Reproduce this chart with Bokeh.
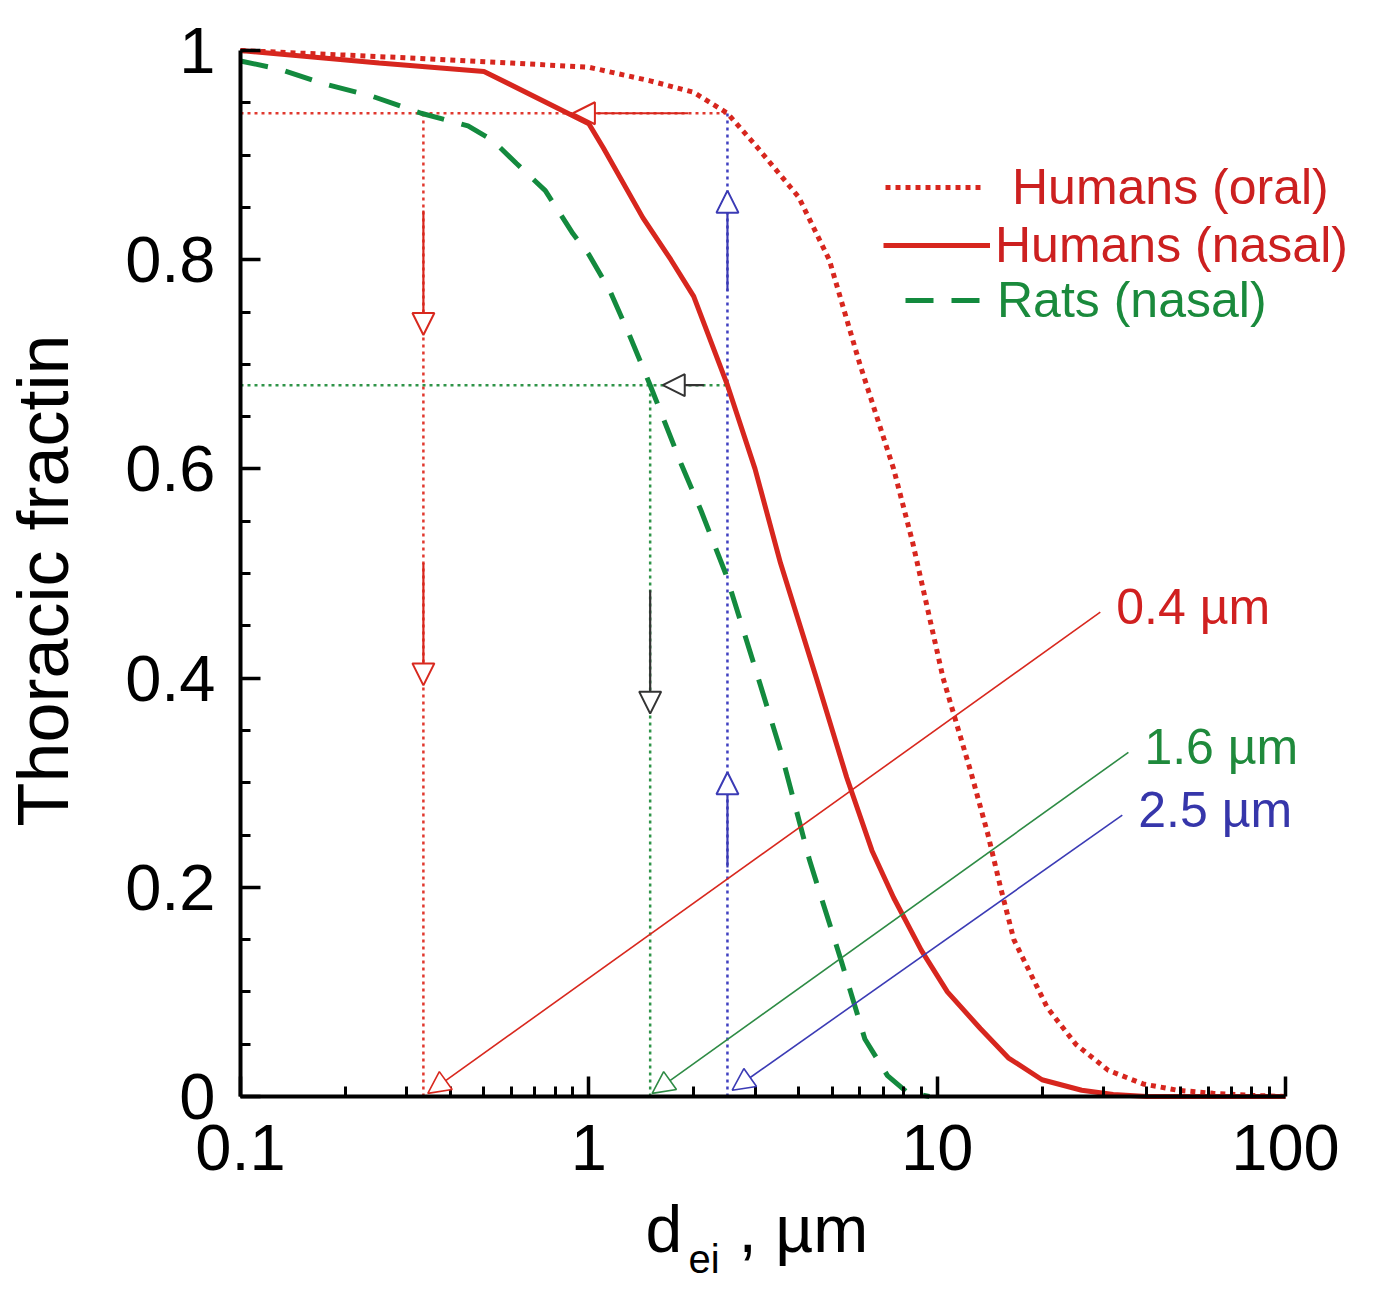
from math import pi
from bokeh.plotting import figure
from bokeh.models import (Range1d, FixedTicker, CustomJSTickFormatter, Label, Legend,
                          LegendItem, Arrow, NormalHead, ColumnDataSource, LinearAxis,
                          LogAxis, LogScale)
from bokeh.embed import file_html
from bokeh.resources import INLINE

# ---------------- data ----------------
oral_x = [0.1, 0.3, 0.6, 1.0, 1.5, 2.0, 2.5, 3.0, 4.0, 4.9, 6.0, 7.5, 8.5, 10.4, 12.5,
          14, 15.2, 16.6, 20.7, 25, 31, 39, 49, 62, 80, 100]
oral_y = [1.0, 0.993, 0.988, 0.984, 0.971, 0.96, 0.94, 0.91, 0.86, 0.80, 0.70, 0.60, 0.53,
          0.40, 0.31, 0.25, 0.20, 0.15, 0.085, 0.05, 0.025, 0.012, 0.006, 0.003, 0.001, 0.0]

nasal_x = [0.1, 0.25, 0.5, 1.0, 1.1, 1.43, 1.72, 2.0, 2.5, 3.0, 3.55, 4.5, 5.5, 6.5, 7.5,
           9.0, 10.7, 13.3, 16, 20, 26, 32, 40, 100]
nasal_y = [1.0, 0.988, 0.98, 0.93, 0.907, 0.84, 0.80, 0.765, 0.68, 0.60, 0.51, 0.40, 0.305,
           0.235, 0.19, 0.14, 0.10, 0.065, 0.037, 0.016, 0.006, 0.002, 0.0, 0.0]

rats_x = [0.1, 0.13, 0.17, 0.24, 0.33, 0.45, 0.53, 0.62, 0.75, 0.9, 1.0, 1.15, 1.3, 1.5,
          1.84, 2.1, 2.47, 3.0, 3.55, 4.3, 5.3, 6.2, 7.2, 8.2, 9.5]
rats_y = [0.99, 0.982, 0.969, 0.956, 0.94, 0.928, 0.914, 0.892, 0.866, 0.825, 0.805, 0.77,
          0.73, 0.68, 0.605, 0.56, 0.50, 0.41, 0.331, 0.226, 0.13, 0.055, 0.02, 0.004, 0.0]

series_labels = ["Humans (oral)", "Humans (nasal)", "Rats (nasal)"]

# cut sizes / fractions used by the guide lines
cut_red, cut_green, cut_blue = 0.335, 1.5, 2.5
frac_red, frac_green = 0.94, 0.68

# guide arrows (x0, y0) -> (x1, y1)
arr_x0 = [1.93, 0.335, 0.335, 2.14, 1.5, 2.5, 2.5]
arr_y0 = [0.94, 0.847, 0.51, 0.68, 0.484, 0.219, 0.77]
arr_x1 = [0.90, 0.335, 0.335, 1.63, 1.5, 2.5, 2.5]
arr_y1 = [0.94, 0.728, 0.393, 0.68, 0.366, 0.31, 0.866]
arr_col = ["#d8281e", "#d8281e", "#d8281e", "#333333", "#333333", "#3b3bb5", "#3b3bb5"]

# diagonal size arrows
diag_text = ["0.4 \u00b5m", "1.6 \u00b5m", "2.5 \u00b5m"]
diag_x0 = [29.4, 35.4, 34.0]
diag_y0 = [0.463, 0.329, 0.269]
diag_x1 = [0.345, 1.52, 2.58]
diag_y1 = [0.003, 0.003, 0.006]
diag_col = ["#d8281e", "#2e8b45", "#3b3bb5"]
diag_txt_col = ["#d02020", "#1f8a3c", "#3636aa"]

x_ticks = [0.1, 1, 10, 100]
x_minor = [m * d for d in (0.1, 1, 10) for m in range(2, 10)]
y_ticks = [0, 0.2, 0.4, 0.6, 0.8, 1]
y_minor = [round(0.05 * i, 2) for i in range(21)]

RED = "#d7261e"
GREEN = "#138a3e"
FONT = "Liberation Sans"

W, H = 1376, 1288
# plot box in canvas pixels: x 0.1 -> 240, 100 -> 1285 ; y 1 -> 50, 0 -> 1096
DEC = (1285 - 240) / 3.0
UNIT = 1096 - 50
x_lo = 10 ** (-1 - 240 / DEC)
x_hi = 10 ** (2 + (W - 1285) / DEC)
y_hi = 1 + 50 / UNIT
y_lo = -(H - 1096) / UNIT

# ---------------- figure ----------------
p = figure(width=W, height=H, x_axis_type=None, y_axis_type=None,
           x_range=Range1d(x_lo, x_hi), y_range=Range1d(y_lo, y_hi),
           output_backend="svg", toolbar_location=None, tools="",
           min_border=0)
p.x_scale = LogScale()
p.grid.visible = False
p.outline_line_color = None
p.background_fill_color = "white"
p.border_fill_color = "white"

xax = LogAxis(ticker=FixedTicker(ticks=x_ticks, minor_ticks=x_minor),
              fixed_location=0, bounds=(0.1, 100))
yax = LinearAxis(ticker=FixedTicker(ticks=y_ticks, minor_ticks=y_minor),
                 fixed_location=0.1, bounds=(0, 1))
for ax in (xax, yax):
    ax.axis_line_width = 4
    ax.axis_line_color = "black"
    ax.major_tick_in = 20
    ax.major_tick_out = 0
    ax.minor_tick_in = 10
    ax.minor_tick_out = 0
    ax.major_tick_line_width = 3.5
    ax.minor_tick_line_width = 3
    ax.major_tick_line_color = "black"
    ax.minor_tick_line_color = "black"
    ax.major_label_text_font = FONT
    ax.major_label_text_font_size = "65px"
    ax.major_label_text_color = "black"
    ax.formatter = CustomJSTickFormatter(code="return String(tick)")
xax.major_label_standoff = 28
yax.major_label_standoff = 25
p.add_layout(xax, "below")
p.add_layout(yax, "left")

# dotted guide lines
gsrc = ColumnDataSource(dict(
    x0=[0.1, cut_red, 0.1, cut_green, cut_blue],
    y0=[frac_red, 0, frac_green, 0, 0],
    x1=[cut_blue, cut_red, cut_blue, cut_green, cut_blue],
    y1=[frac_red, frac_red, frac_green, frac_green, frac_red],
    c=["#e0382e", "#e0382e", "#2f9448", "#2f9448", "#4040c0"],
))
p.segment("x0", "y0", "x1", "y1", source=gsrc, line_color="c", line_width=2.5,
          line_dash="3 4")

# curves
r_oral = p.line(oral_x, oral_y, line_color=RED, line_width=5, line_dash="5 5")
r_nasal = p.line(nasal_x, nasal_y, line_color=RED, line_width=5)
r_rats = p.line(rats_x, rats_y, line_color=GREEN, line_width=5, line_dash="28 18")

# arrows
for x0, y0, x1, y1, c in zip(arr_x0, arr_y0, arr_x1, arr_y1, arr_col):
    p.add_layout(Arrow(x_start=x0, y_start=y0, x_end=x1, y_end=y1,
                       line_color=c, line_width=2.2,
                       end=NormalHead(size=22, fill_color="white", line_color=c,
                                      line_width=2)))

for x0, y0, x1, y1, c, t, tc in zip(diag_x0, diag_y0, diag_x1, diag_y1, diag_col,
                                     diag_text, diag_txt_col):
    p.add_layout(Arrow(x_start=x0, y_start=y0, x_end=x1, y_end=y1,
                       line_color=c, line_width=1.6,
                       end=NormalHead(size=22, fill_color="white", line_color=c,
                                      line_width=1.6)))
    p.add_layout(Label(x=x0, y=y0, x_offset=16, y_offset=5, text=t,
                       text_font=FONT, text_font_size="50px", text_color=tc,
                       text_align="left", text_baseline="middle"))

# legends (one per entry so each label keeps its colour); screen coords from bottom-left
leg_specs = [
    (r_oral, series_labels[0], (885, H - 216), 100, 27, "#cc2020"),
    (r_nasal, series_labels[1], (883, H - 274), 107, 5, "#cc2020"),
    (r_rats, series_labels[2], (905, H - 329), 80, 12, "#1a8a3c"),
]
for r, lab, loc, gw, so, col in leg_specs:
    lg = Legend(items=[LegendItem(label=lab, renderers=[r])], location=loc,
                glyph_width=gw, glyph_height=58, label_height=58, label_standoff=so,
                padding=0, margin=0, spacing=0, border_line_color=None,
                background_fill_alpha=0, label_text_font=FONT,
                label_text_font_size="50px", label_text_color=col)
    p.add_layout(lg)

# axis titles (screen coords, origin bottom-left of canvas)
p.add_layout(Label(x=42, y=H - 580, x_units="screen", y_units="screen",
                   text="Thoracic fractin", angle=pi / 2, text_font=FONT,
                   text_font_size="72px", text_color="black",
                   text_align="center", text_baseline="middle"))
p.add_layout(Label(x=645, y=H - 1228, x_units="screen", y_units="screen", text="d",
                   text_font=FONT, text_font_size="66px", text_color="black",
                   text_align="left", text_baseline="alphabetic"))
p.add_layout(Label(x=688, y=H - 1258, x_units="screen", y_units="screen", text="ei",
                   text_font=FONT, text_font_size="40px", text_color="black",
                   text_align="left", text_baseline="alphabetic"))
p.add_layout(Label(x=738, y=H - 1228, x_units="screen", y_units="screen",
                   text=", \u00b5m", text_font=FONT, text_font_size="66px",
                   text_color="black", text_align="left", text_baseline="alphabetic"))

open("out.html", "w").write(file_html(p, INLINE))
